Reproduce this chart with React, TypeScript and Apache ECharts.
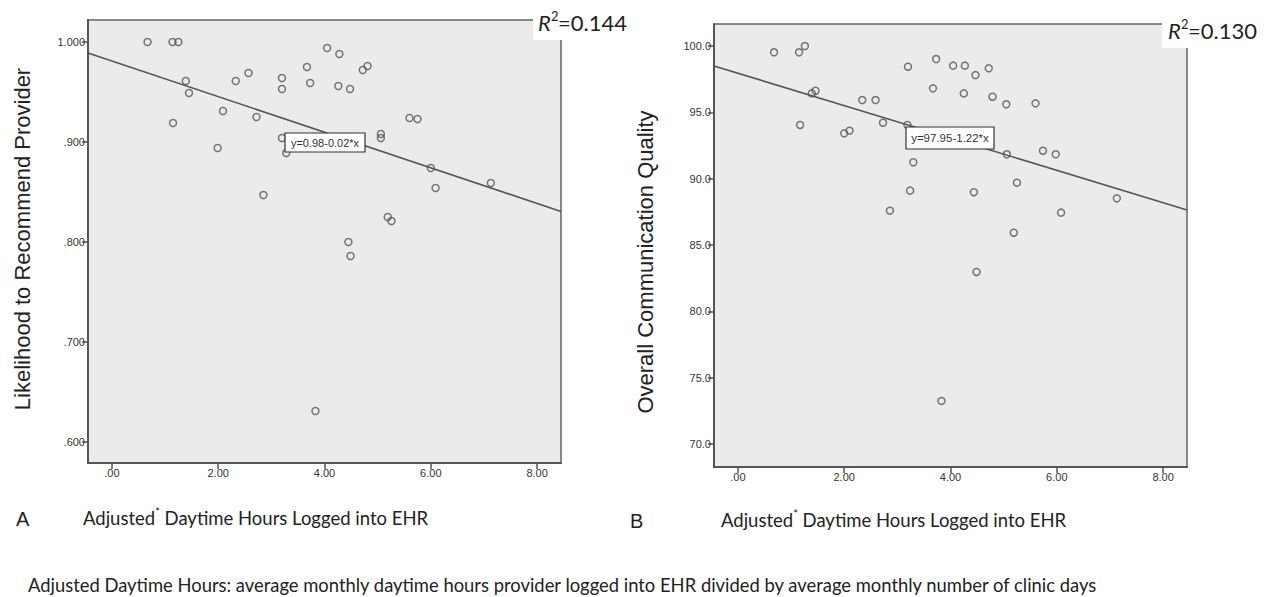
import React, { useEffect, useRef } from "react";
import * as echarts from "echarts";

// Panel A: adjusted daytime hours vs likelihood to recommend provider
const hoursA = [0.67, 1.14, 1.25, 1.39, 1.45, 1.15, 1.99, 2.09, 2.33, 2.57, 2.72, 2.85, 3.2, 3.2, 3.2, 3.28, 3.67, 3.73, 4.05, 4.28, 4.26, 4.48, 4.72, 4.81, 5.6, 5.75, 5.06, 5.06, 6.0, 6.09, 7.13, 5.19, 5.26, 4.45, 4.49, 3.83];
const likelihood = [1.0, 1.0, 1.0, 0.961, 0.949, 0.919, 0.894, 0.931, 0.961, 0.969, 0.925, 0.847, 0.964, 0.953, 0.904, 0.889, 0.975, 0.959, 0.994, 0.988, 0.956, 0.953, 0.972, 0.976, 0.924, 0.923, 0.908, 0.904, 0.874, 0.854, 0.859, 0.825, 0.821, 0.8, 0.786, 0.631];

// Panel B: adjusted daytime hours vs overall communication quality
const hoursB = [0.68, 1.15, 1.26, 1.17, 1.39, 1.46, 2.0, 2.1, 2.34, 2.59, 2.73, 2.86, 3.2, 3.19, 3.3, 3.24, 3.67, 3.73, 4.05, 4.27, 4.47, 4.72, 4.25, 4.79, 5.05, 5.6, 5.06, 5.74, 5.98, 5.25, 4.44, 6.08, 7.13, 5.19, 4.49, 3.83];
const quality = [99.53, 99.53, 100.0, 94.05, 96.43, 96.63, 93.42, 93.62, 95.93, 95.93, 94.22, 87.59, 98.44, 94.05, 91.24, 89.1, 96.81, 99.02, 98.52, 98.52, 97.81, 98.32, 96.43, 96.18, 95.61, 95.68, 91.84, 92.11, 91.84, 89.7, 88.98, 87.44, 88.52, 85.93, 82.97, 73.25];

// Fit lines [intercept, slope]
const fitA = [0.981, -0.0178];
const fitB = [97.95, -1.22];
const xRange = [-0.45, 8.45];

// Tick values
const xTicks = [0, 2, 4, 6, 8];
const yTicksA = [0.6, 0.7, 0.8, 0.9, 1.0];
const yTicksB = [70, 75, 80, 85, 90, 95, 100];

const eqA = "y=0.98-0.02*x";
const eqB = "y=97.95-1.22*x";
const r2A = "=0.144";
const r2B = "=0.130";

const xTitle = "{a|Adjusted}{s|*}{a| Daytime Hours Logged into EHR}";
const yTitleA = "Likelihood to Recommend Provider";
const yTitleB = "Overall Communication Quality";
const footnote =
  "Adjusted Daytime Hours: average monthly daytime hours provider logged into EHR divided by average monthly number of clinic days";

const AXIS_COLOR = "#555";
const TICK_FONT = "'Liberation Sans', Arial, sans-serif";
const CAL_FONT = "Lato, 'Open Sans', sans-serif";

function fmtX(v: number) {
  return v === 0 ? ".00" : v.toFixed(2);
}
function fmtYA(v: number) {
  const s = v.toFixed(3);
  return s.startsWith("0") ? s.slice(1) : s;
}

export default function App() {
  const ref = useRef<HTMLDivElement>(null);
  useEffect(() => {
    if (!ref.current) return;
    const chart = echarts.init(ref.current, undefined, { renderer: "svg" });

    const xAxisBase = (gridIndex: number) => ({
      type: "value" as const,
      gridIndex,
      min: xRange[0],
      max: xRange[1],
      splitLine: { show: false },
      axisLine: { show: true, onZero: false, lineStyle: { color: AXIS_COLOR, width: 2 } },
      axisTick: { show: true, length: 6, customValues: xTicks, lineStyle: { color: AXIS_COLOR, width: 1.5 } },
      axisLabel: {
        customValues: xTicks,
        formatter: fmtX,
        fontSize: 11,
        fontFamily: TICK_FONT,
        color: "#333",
        margin: 4,
      },
    });

    const fitData = (fit: number[]) => [
      [xRange[0], fit[0] + fit[1] * xRange[0]],
      [xRange[1], fit[0] + fit[1] * xRange[1]],
    ];

    const scatterStyle = {
      symbol: "circle",
      symbolSize: 7,
      itemStyle: { color: "rgba(0,0,0,0)", borderColor: "#555", borderWidth: 1.5 },
    };

    const textStyle = (x: number, y: number, text: string, font: string, size: number, extra: any = {}) => ({
      type: "text",
      x,
      y,
      z: 110,
      style: {
        text,
        fontFamily: font,
        fontSize: size,
        fill: "#222",
        align: "left",
        verticalAlign: "middle",
        ...extra,
      },
    });

    const xTitleEl = (x: number, y: number) => ({
      type: "text",
      x,
      y,
      z: 110,
      style: {
        text: xTitle,
        rich: {
          a: { fontFamily: CAL_FONT, fontSize: 18.5, fill: "#222", lineHeight: 24 },
          s: { fontFamily: CAL_FONT, fontSize: 11, fill: "#222", verticalAlign: "top", lineHeight: 14 },
        },
        verticalAlign: "middle",
      },
    });

    const option: any = {
      animation: false,
      backgroundColor: "#fff",
      grid: [
        { left: 88, top: 20, width: 473, height: 443, show: true, backgroundColor: "#ebebeb", borderColor: "#666", borderWidth: 1.5 },
        { left: 714, top: 24, width: 473, height: 443, show: true, backgroundColor: "#ebebeb", borderColor: "#666", borderWidth: 1.5 },
      ],
      xAxis: [xAxisBase(0), xAxisBase(1)],
      yAxis: [
        {
          type: "value",
          gridIndex: 0,
          min: 0.579,
          max: 1.022,
          splitLine: { show: false },
          axisLine: { show: true, onZero: false, lineStyle: { color: AXIS_COLOR, width: 2 } },
          axisTick: { show: true, length: 6, customValues: yTicksA, lineStyle: { color: AXIS_COLOR, width: 1.5 } },
          axisLabel: { customValues: yTicksA, formatter: fmtYA, fontSize: 11, fontFamily: TICK_FONT, color: "#333", margin: 3 },
        },
        {
          type: "value",
          gridIndex: 1,
          min: 68.27,
          max: 101.66,
          splitLine: { show: false },
          axisLine: { show: true, onZero: false, lineStyle: { color: AXIS_COLOR, width: 2 } },
          axisTick: { show: true, length: 6, customValues: yTicksB, lineStyle: { color: AXIS_COLOR, width: 1.5 } },
          axisLabel: { customValues: yTicksB, formatter: (v: number) => v.toFixed(1), fontSize: 11, fontFamily: TICK_FONT, color: "#333", margin: 3 },
        },
      ],
      series: [
        {
          type: "line",
          xAxisIndex: 0,
          yAxisIndex: 0,
          data: fitData(fitA),
          symbol: "none",
          lineStyle: { color: "#555", width: 1.6 },
          silent: true,
        },
        {
          type: "scatter",
          xAxisIndex: 0,
          yAxisIndex: 0,
          data: hoursA.map((x, i) => [x, likelihood[i]]),
          ...scatterStyle,
        },
        {
          type: "line",
          xAxisIndex: 1,
          yAxisIndex: 1,
          data: fitData(fitB),
          symbol: "none",
          lineStyle: { color: "#555", width: 1.6 },
          silent: true,
        },
        {
          type: "scatter",
          xAxisIndex: 1,
          yAxisIndex: 1,
          data: hoursB.map((x, i) => [x, quality[i]]),
          ...scatterStyle,
        },
      ],
      graphic: [
        // R² boxes covering the top-right corner of each plot
        { type: "rect", z: 100, shape: { x: 533, y: 0, width: 115, height: 40 }, style: { fill: "#fff" } },
        { type: "rect", z: 100, shape: { x: 1162, y: 6, width: 106, height: 42 }, style: { fill: "#fff" } },
        textStyle(538, 22, "R", CAL_FONT, 22, { fontStyle: "italic" }),
        textStyle(551, 16, "2", CAL_FONT, 13),
        textStyle(558, 22, r2A, CAL_FONT, 22),
        textStyle(1168, 30, "R", CAL_FONT, 22, { fontStyle: "italic" }),
        textStyle(1181, 24, "2", CAL_FONT, 13),
        textStyle(1188, 30, r2B, CAL_FONT, 22),
        // equation boxes
        { type: "rect", z: 100, shape: { x: 285, y: 133, width: 80, height: 19 }, style: { fill: "#fff", stroke: "#333", lineWidth: 1.2 } },
        textStyle(325, 143, eqA, TICK_FONT, 11, { align: "center", fill: "#333" }),
        { type: "rect", z: 100, shape: { x: 906, y: 127, width: 88, height: 22 }, style: { fill: "#fff", stroke: "#333", lineWidth: 1.2 } },
        textStyle(950, 138, eqB, TICK_FONT, 11.5, { align: "center", fill: "#333" }),
        // y-axis titles
        { ...textStyle(22, 239, yTitleA, TICK_FONT, 22, { align: "center" }), rotation: Math.PI / 2 },
        { ...textStyle(645, 262, yTitleB, TICK_FONT, 22, { align: "center" }), rotation: Math.PI / 2 },
        // panel letters
        textStyle(16, 519, "A", TICK_FONT, 20),
        textStyle(630, 521, "B", TICK_FONT, 20),
        // x-axis titles
        xTitleEl(83, 518),
        xTitleEl(721, 520),
        // footnote
        textStyle(28, 585, footnote, CAL_FONT, 18.4),
      ],
    };

    chart.setOption(option);
    return () => chart.dispose();
  }, []);

  return (
    <div
      ref={ref}
      style={{ position: "absolute", left: 0, top: 0, width: 1270, height: 597, background: "#fff" }}
    />
  );
}
